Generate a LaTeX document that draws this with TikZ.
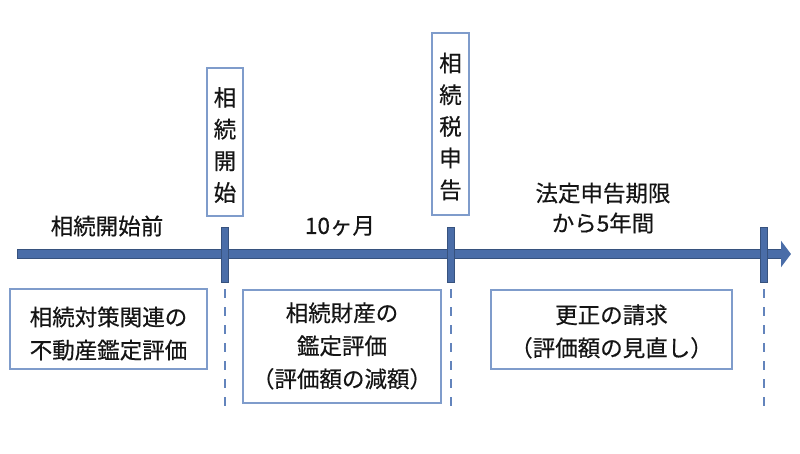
\documentclass[tikz,border=0pt]{standalone}
\usepackage{fontspec}
\setmainfont{Noto Sans CJK JP}[RawFeature={embolden=0.5}]
\usetikzlibrary{arrows.meta}
\definecolor{axisblue}{HTML}{4A6DA8}
\definecolor{boxblue}{HTML}{7F9CCB}
\definecolor{dashblue}{HTML}{6384BC}
\definecolor{txt}{HTML}{151515}
\tikzset{
  lbl/.style={text=txt, font=\fontsize{22.5}{33}\selectfont, align=center, inner sep=0pt},
  infobox/.style={lbl, draw=boxblue, line width=1.1pt, fill=white},
  vbox/.style={infobox, inner sep=0pt},
  tickmark/.style={fill=axisblue, draw=axisblue!75!black, line width=0.7pt, minimum width=7pt, minimum height=55pt, inner sep=0pt},
  axisline/.style={draw=axisblue, line width=8.5pt, -{Triangle[length=10pt,width=26pt]}},
  axisedge/.style={draw=axisblue!75!black, line width=9.8pt},
  guide/.style={draw=dashblue, line width=1.7pt, dash pattern=on 9pt off 9pt}
}
\begin{document}
\begin{tikzpicture}[x=1pt,y=-1pt]
\useasboundingbox (0,0) rectangle (800,453);
% axis
\coordinate (s) at (17,254);
\coordinate (e) at (791,254);
\coordinate (eb) at (781,254);
\draw[axisedge] (s) -- (eb);
\draw[axisline] ([xshift=0.6pt]s) -- (e);
% ticks
\node[tickmark] (t1) at (225,254.5) {};
\node[tickmark] (t2) at (451,254.5) {};
\node[tickmark] (t3) at (764,254.5) {};
% guides
\coordinate (g1) at (225,414);
\coordinate (g2) at (451,414);
\coordinate (g3) at (764,414);
\draw[guide] ([yshift=-7pt]t1.south) -- (g1);
\draw[guide] ([yshift=-7pt]t2.south) -- (g2);
\draw[guide] ([yshift=-7pt]t3.south) -- (g3);
% vertical boxes
\node[vbox, minimum width=36pt, minimum height=148pt] (vb1) at (225,142) {};
\node[lbl] (vt1) at (225,145) {相\\[-1.3pt]続\\[-1.3pt]開\\[-1.3pt]始};
\node[vbox, minimum width=37pt, minimum height=182pt] (vb2) at (450.5,124) {};
\node[lbl] (vt2) at (450.5,126.5) {相\\[-1.3pt]続\\[-1.3pt]税\\[-1.3pt]申\\[-1.3pt]告};
% period labels
\node[lbl] (p1) at (107,226) {相続開始前};
\node[lbl] (p2) at (340,226) {10ヶ月};
\node[lbl, font=\fontsize{22.5}{30}\selectfont] (p3) at (603,208) {法定申告期限\\から5年間};
% bottom boxes
\node[infobox, minimum width=197pt, minimum height=80pt] (b1) at (108.5,329) {};
\node[lbl] (b1t) at (108.5,333.5) {相続対策関連の\\不動産鑑定評価};
\node[infobox, minimum width=198pt, minimum height=113pt] (b2) at (342,346.5) {};
\node[lbl] (b2t) at (342,346) {相続財産の\\鑑定評価\\（評価額の減額）};
\node[infobox, minimum width=241pt, minimum height=79pt] (b3) at (611.5,329.5) {};
\node[lbl] (b3t) at (611.5,331.5) {更正の請求\\（評価額の見直し）};
\end{tikzpicture}
\end{document}
